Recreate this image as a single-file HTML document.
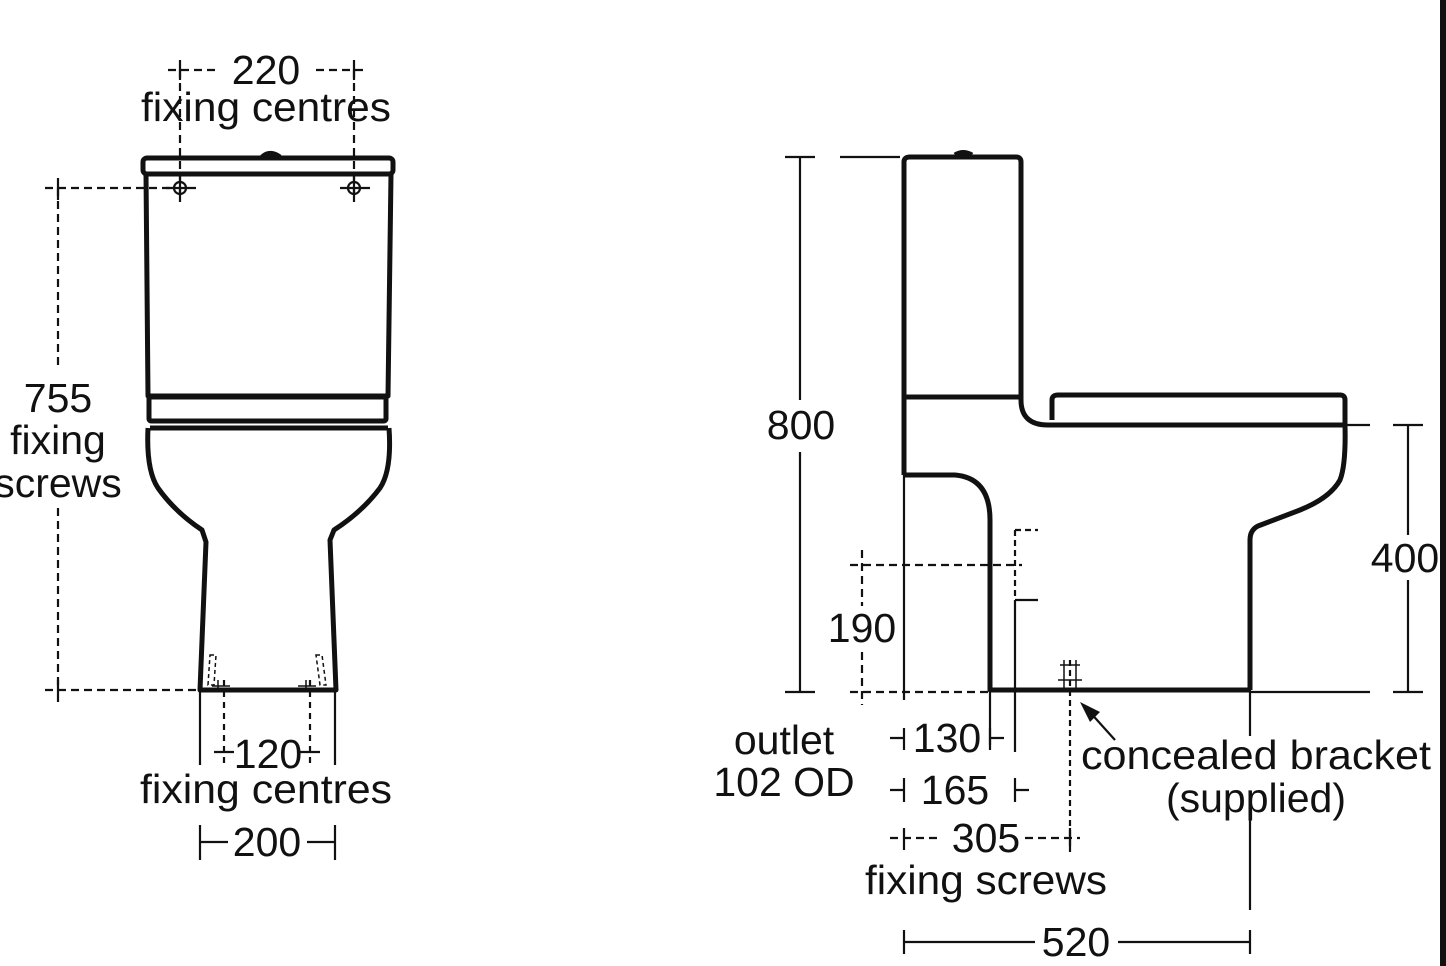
<!DOCTYPE html>
<html><head><style>html,body{margin:0;padding:0;background:#fff}svg{display:block}</style></head>
<body>
<svg width="1446" height="966" viewBox="0 0 1446 966" xmlns="http://www.w3.org/2000/svg" font-family="Liberation Sans, sans-serif" font-size="41" fill="none" stroke="#111">
<rect x="1440" y="0" width="6" height="966" fill="#111" stroke="none"/>
<!-- FRONT VIEW -->
<g stroke-width="5" stroke-linejoin="round">
<rect x="143" y="158" width="250" height="16" rx="4"/>
<path d="M262 157 Q270 150 280 157"/>
<path d="M146 174 L148 396 L388 396 L391 174"/>
<rect x="149" y="397" width="237" height="24" rx="2"/>
<path d="M150 428 L388 428 M148 428 Q146 470 158 488 Q175 512 202 530 L206 542 L200 690 L336 690 L330 540 L334 530 Q362 512 380 488 Q392 470 389 428"/>
</g>
<g stroke-width="2.2">
<path d="M180 70 V200 M354 70 V200" stroke-dasharray="8,5"/>
<circle cx="180" cy="188" r="6"/><circle cx="354" cy="188" r="6"/>
<path d="M166 188 H196 M340 188 H370 M180 174 V202 M354 174 V202"/>
<path d="M168 70 H220 M316 70 H366" stroke-dasharray="8,5"/>
<path d="M180 60 V80 M354 60 V80"/>
<path d="M58 188 V365 M58 508 V690" stroke-dasharray="8,5"/>
<path d="M45 188 H175 M45 690 H200" stroke-dasharray="8,5"/>
<path d="M58 178 V200 M58 680 V702"/>
<path d="M200 690 V765 M335 690 V765 M200 825 V860 M335 825 V860"/>
<path d="M224 680 V765 M310 680 V765" stroke-dasharray="6,5"/>
<path d="M214 752 H234 M300 752 H320 M200 842 H228 M307 842 H335"/>
<path d="M210 655 L216 655 L214 685 L208 685 Z M316 655 L322 655 L326 685 L320 685 Z" stroke-dasharray="4,3" stroke-width="1.5"/>
<path d="M218 680 V690 M212 686 H230 M306 680 V690 M298 686 H316" stroke-width="1.5"/>
</g>
<g fill="#111" stroke="none">
<text x="266" y="84" text-anchor="middle">220</text>
<text x="266" y="121" text-anchor="middle" textLength="250" lengthAdjust="spacingAndGlyphs">fixing centres</text>
<text x="58" y="412" text-anchor="middle">755</text>
<text x="58" y="454" text-anchor="middle">fixing</text>
<text x="58" y="497" text-anchor="middle">screws</text>
<text x="268" y="768" text-anchor="middle">120</text>
<text x="266" y="803" text-anchor="middle" textLength="252" lengthAdjust="spacingAndGlyphs">fixing centres</text>
<text x="267" y="856" text-anchor="middle">200</text>
</g>
<!-- SIDE VIEW -->
<g stroke-width="5" stroke-linejoin="round">
<path d="M904 475 V162 Q904 157 910 157 H1016 Q1021 157 1021 162 V400 Q1021 425 1048 425 H1345"/>
<path d="M904 397 H1021"/>
<path d="M955 155 Q963 150 972 155"/>
<path d="M1052 420 V400 Q1052 395 1058 395 H1340 Q1345 395 1345 400 V425 Q1346 465 1340 480 Q1330 498 1300 510 L1258 526 Q1250 530 1250 540 L1250 690"/>
<path d="M904 475 H955 Q990 478 990 520 V690 H1250"/>
</g>
<g stroke-width="2.2">
<path d="M800 157 V400 M800 452 V692 M785 157 H815 M785 692 H815 M840 157 H900"/>
<path d="M904 475 V700 M990 690 V745 M1015 600 V752 M1015 600 H1038 M1250 690 V736 M1250 820 V910"/>
<path d="M1015 530 V600 M1015 530 H1038" stroke-dasharray="6,4"/>
<path d="M850 565 H1022 M850 692 H990 M862 550 V606 M862 652 V705" stroke-dasharray="8,5"/>
<path d="M1070 660 V852" stroke-dasharray="6,4"/>
<path d="M1058 680 H1082 M1060 665 H1080 M1064 660 V690 M1076 660 V690" stroke-width="1.5"/>
<path d="M1408 425 V535 M1408 580 V692 M1393 425 H1423 M1393 692 H1423 M1345 425 H1370 M1250 692 H1370"/>
<path d="M1115 740 L1088 710"/>
<path d="M890 738 H904 M990 738 H1004 M890 790 H904 M1015 790 H1029 M904 778 V802 M1015 778 V802 M904 728 V750 M990 728 V750"/>
<path d="M890 838 H940 M1025 838 H1080" stroke-dasharray="8,5"/>
<path d="M904 828 V850 M1070 828 V850"/>
<path d="M904 942 H1035 M1118 942 H1250 M904 930 V954 M1250 930 V954"/>
</g>
<path d="M1080 702 L1100 712 L1090 722 Z" fill="#111" stroke="none"/>
<g fill="#111" stroke="none">
<text x="801" y="439" text-anchor="middle">800</text>
<text x="862" y="642" text-anchor="middle">190</text>
<text x="1405" y="572" text-anchor="middle">400</text>
<text x="784" y="754" text-anchor="middle">outlet</text>
<text x="784" y="796" text-anchor="middle">102 OD</text>
<text x="947" y="752" text-anchor="middle">130</text>
<text x="955" y="804" text-anchor="middle">165</text>
<text x="986" y="852" text-anchor="middle">305</text>
<text x="986" y="894" text-anchor="middle" textLength="242" lengthAdjust="spacingAndGlyphs">fixing screws</text>
<text x="1076" y="956" text-anchor="middle">520</text>
<text x="1256" y="769" text-anchor="middle" textLength="350" lengthAdjust="spacingAndGlyphs">concealed bracket</text>
<text x="1256" y="812" text-anchor="middle">(supplied)</text>
</g>
</svg>
</body></html>
